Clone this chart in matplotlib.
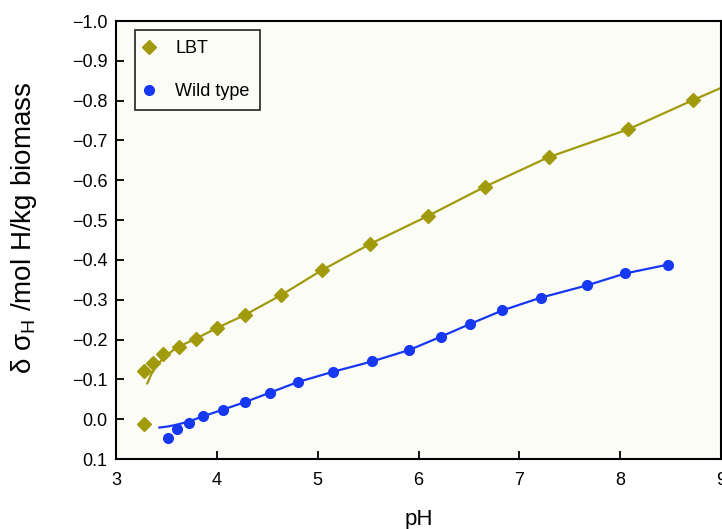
import matplotlib
matplotlib.use("Agg")
import matplotlib.pyplot as plt

plt.rcParams['font.family'] = ['Liberation Sans', 'DejaVu Sans']
plt.rcParams['mathtext.fontset'] = 'custom'
plt.rcParams['mathtext.rm'] = 'Liberation Sans'

# LBT measured points
lbt_ph = [3.28, 3.37, 3.47, 3.62, 3.79, 4.00, 4.28, 4.64, 5.04, 5.52, 6.09, 6.66, 7.29, 8.08, 8.72]
lbt_val = [-0.121, -0.142, -0.163, -0.182, -0.202, -0.229, -0.262, -0.312, -0.374,
           -0.440, -0.510, -0.584, -0.658, -0.728, -0.801]
lbt_out_ph = [3.28]
lbt_out_val = [0.011]

# LBT fitted curve
lbt_fit_ph = [3.31, 3.35, 3.40, 3.45, 3.50, 3.56, 3.62, 3.79, 4.00, 4.28, 4.64, 5.04,
              5.52, 6.09, 6.66, 7.29, 8.08, 8.72, 9.0]
lbt_fit_val = [-0.090, -0.113, -0.133, -0.148, -0.160, -0.172, -0.182, -0.202, -0.229,
               -0.262, -0.312, -0.374, -0.440, -0.510, -0.584, -0.658, -0.728, -0.801, -0.832]

# Wild type measured points
wt_ph = [3.52, 3.60, 3.72, 3.86, 4.06, 4.28, 4.53, 4.80, 5.15, 5.54, 5.91, 6.22, 6.51,
         6.83, 7.21, 7.67, 8.05, 8.47]
wt_val = [0.046, 0.024, 0.010, -0.008, -0.024, -0.043, -0.067, -0.093, -0.119, -0.145,
          -0.174, -0.207, -0.239, -0.273, -0.305, -0.336, -0.366, -0.388]

# Wild type fitted curve
wt_fit_ph = [3.43, 3.52, 3.60, 3.72, 3.86, 4.06, 4.28, 4.53, 4.80, 5.15, 5.54, 5.91,
             6.22, 6.51, 6.83, 7.21, 7.67, 8.05, 8.47]
wt_fit_val = [0.021, 0.018, 0.014, 0.006, -0.007, -0.024, -0.043, -0.067, -0.093, -0.119,
              -0.145, -0.174, -0.207, -0.239, -0.273, -0.305, -0.336, -0.366, -0.388]

olive = '#a09a0c'
blue = '#1638f2'

fig = plt.figure(figsize=(7.22, 5.29), dpi=100)
ax = fig.add_axes([0.1607, 0.1323, 0.8379, 0.828])
ax.set_facecolor('#fbfcf6')

ax.plot(lbt_fit_ph, lbt_fit_val, color=olive, lw=1.6)
ax.plot(wt_fit_ph, wt_fit_val, color=blue, lw=1.6)
ax.plot(lbt_ph, lbt_val, 'D', color=olive, ms=7, ls='none', label='LBT')
ax.plot(lbt_out_ph, lbt_out_val, 'D', color=olive, ms=7, ls='none')
ax.plot(wt_ph, wt_val, 'o', color=blue, ms=7, ls='none', label='Wild type')

ax.set_xlim(3, 9)
ax.set_ylim(0.1, -1.0)
ax.set_xticks([3, 4, 5, 6, 7, 8, 9])
ax.set_yticks([0.1, 0.0, -0.1, -0.2, -0.3, -0.4, -0.5, -0.6, -0.7, -0.8, -0.9, -1.0])
ax.set_yticklabels(['0.1', '0.0'] + ['\u2212%.1f' % (v / 10) for v in range(1, 11)])
ax.tick_params(direction='in', length=6, width=1.3, labelsize=13)
ax.tick_params(axis='x', pad=9)
ax.tick_params(axis='y', pad=6)
for s in ax.spines.values():
    s.set_linewidth(1.5)

ax.set_xlabel('pH', fontsize=16, labelpad=15)
ax.set_ylabel('δ σ$_{\\mathregular{H}}$ /mol H/kg biomass', fontsize=20)
ax.yaxis.set_label_coords(-0.128, 0.528)

leg = ax.legend(loc='upper left', bbox_to_anchor=(0.031, 0.979), borderaxespad=0,
                fontsize=13, frameon=True, fancybox=False, edgecolor='black',
                labelspacing=1.45, handlelength=0.5, handletextpad=1.2,
                borderpad=0.55, numpoints=1)
leg.get_frame().set_linewidth(1.3)
leg.get_frame().set_facecolor('none')

fig.savefig('out.png', dpi=100)
